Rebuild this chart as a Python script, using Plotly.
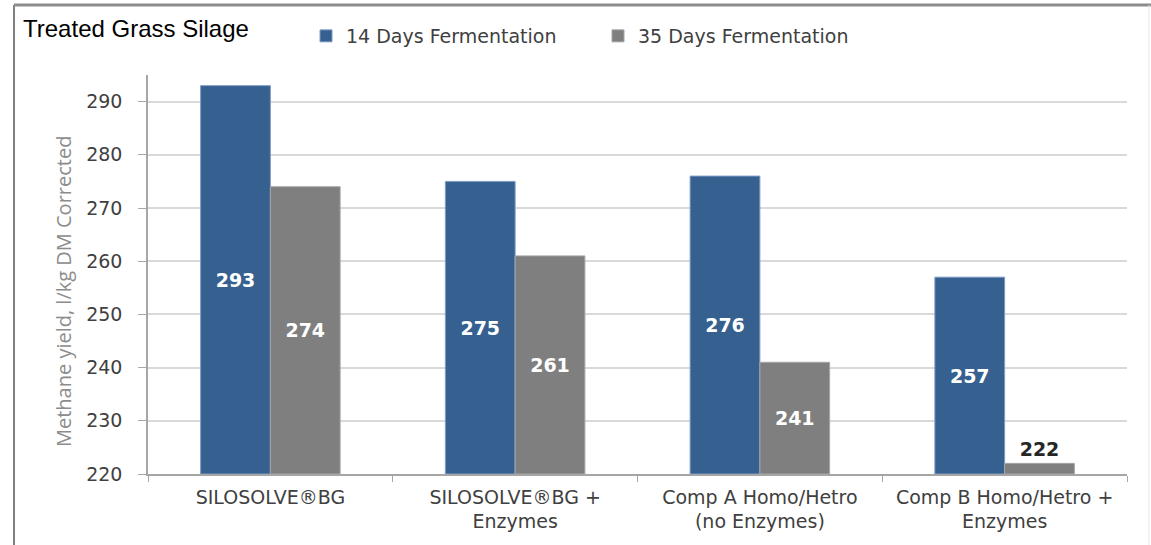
import plotly.graph_objects as go

categories = ["SILOSOLVE®BG", "SILOSOLVE®BG +<br>Enzymes", "Comp A Homo/Hetro<br>(no Enzymes)", "Comp B Homo/Hetro +<br>Enzymes"]
series_names = ["14 Days Fermentation", "35 Days Fermentation"]
values_14 = [293, 275, 276, 257]
values_35 = [274, 261, 241, 222]
y_ticks = [220, 230, 240, 250, 260, 270, 280, 290]
y_min, y_max = 220, 295

W, H = 1151, 545
L, R, T, B = 148, 1127, 75, 474
pw, ph = R - L, B - T

def px(x):
    return (x - L) / pw

def py(y):
    return (B - y) / ph

def positions(vals):
    return ["outside" if v - y_min < 8 else "inside" for v in vals]

def colors(vals):
    return ["#262626" if v - y_min < 8 else "white" for v in vals]

blue = "#36608f"
grey = "#7f7f7f"

fig = go.Figure()
for name, vals, col, edge in [(series_names[0], values_14, blue, "#7f9cc4"),
                              (series_names[1], values_35, grey, "#a6a6a6")]:
    fig.add_trace(go.Bar(
        x=categories, y=[v - y_min for v in vals], base=y_min, name=name,
        marker=dict(color=col, line=dict(color=edge, width=1)),
        text=[str(v) for v in vals], textposition=positions(vals),
        insidetextanchor="middle", textangle=0,
        textfont=dict(family="DejaVu Sans", size=19, color=colors(vals), weight="bold"),
        cliponaxis=False,
    ))

fig.update_layout(
    width=W, height=H,
    margin=dict(l=L, r=W - R, t=T, b=H - B, pad=0),
    paper_bgcolor="white", plot_bgcolor="white",
    barmode="group", bargap=0.43, bargroupgap=0,
    showlegend=True,
    legend=dict(orientation="h", x=px(306), y=py(36), xanchor="left", yanchor="middle",
                font=dict(family="DejaVu Sans", size=19, color="#404040"),
                itemwidth=30, entrywidth=247, entrywidthmode="pixels",
                tracegroupgap=0, bgcolor="rgba(0,0,0,0)"),
    xaxis=dict(
        showline=True, linecolor="#a6a6a6", linewidth=1.5,
        ticks="outside", ticklen=6, tickcolor="#a6a6a6", tickson="boundaries",
        tickfont=dict(family="DejaVu Sans", size=19, color="#404040"),
        ticklabelstandoff=5,
        showgrid=False,
    ),
    yaxis=dict(
        range=[y_min, y_max], tickvals=y_ticks,
        showline=True, linecolor="#a6a6a6", linewidth=1.5,
        ticks="outside", ticklen=8, tickcolor="#a6a6a6",
        ticklabelstandoff=12,
        showgrid=True, gridcolor="#d9d9d9", gridwidth=1.5,
        tickfont=dict(family="DejaVu Sans", size=19, color="#404040"),
        zeroline=False,
    ),
    annotations=[
        dict(text="Treated Grass Silage", x=px(21), y=py(29), xref="paper", yref="paper",
             xanchor="left", yanchor="middle", showarrow=False,
             font=dict(family="Liberation Sans", size=24, color="black")),
        dict(text="Methane yield, l/kg DM Corrected", x=px(63), y=py(292), xref="paper", yref="paper",
             xanchor="center", yanchor="middle", showarrow=False, textangle=-90,
             font=dict(family="Open Sans", size=20, color="#8c8c8c")),
    ],
    shapes=[
        dict(type="line", xref="paper", yref="paper", x0=px(14), x1=px(14), y0=py(545), y1=py(5),
             line=dict(color="#808080", width=2)),
        dict(type="line", xref="paper", yref="paper", x0=px(14), x1=px(1151), y0=py(5), y1=py(5),
             line=dict(color="#8c8c8c", width=3)),
        dict(type="line", xref="paper", yref="paper", x0=px(1149), x1=px(1149), y0=py(545), y1=py(5),
             line=dict(color="#e6e6e6", width=1)),
    ],
)

fig.write_html("out.html", config={"displayModeBar": False})

with open("out.html", encoding="utf-8") as f:
    html = f.read()
html = html.replace("<head>", "<head><style>html,body{margin:0;padding:0;overflow:hidden;}</style>", 1)
with open("out.html", "w", encoding="utf-8") as f:
    f.write(html)
